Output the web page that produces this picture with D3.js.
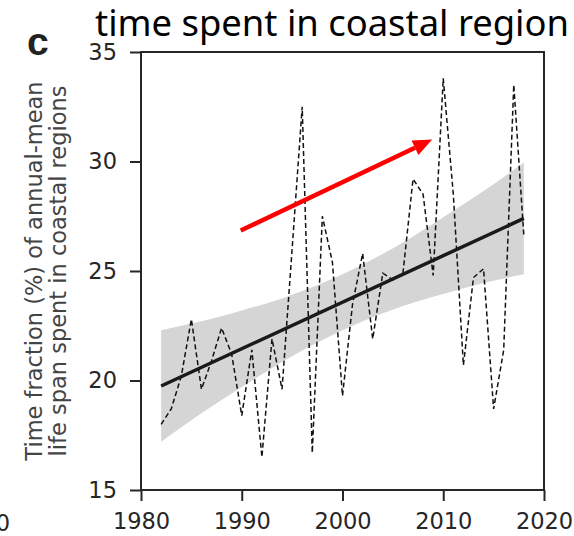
<!DOCTYPE html>
<html>
<head>
<meta charset="utf-8">
<script src="https://cdn.jsdelivr.net/npm/d3@7"></script>
<style>
  body { margin: 0; background: #fff; }
  svg { display: block; }
</style>
</head>
<body>
<svg id="chart" width="574" height="536"></svg>
<script>
// yearly series
const years = [1982, 1983, 1984, 1985, 1986, 1987, 1988, 1989, 1990, 1991,
               1992, 1993, 1994, 1995, 1996, 1997, 1998, 1999, 2000, 2001,
               2002, 2003, 2004, 2005, 2006, 2007, 2008, 2009, 2010, 2011,
               2012, 2013, 2014, 2015, 2016, 2017, 2018];
const fraction = [18.0, 18.7, 20.2, 22.8, 19.6, 20.9, 22.4, 21.2, 18.4, 21.4,
                  16.5, 21.9, 19.6, 26.0, 32.5, 16.7, 27.5, 25.4, 19.3, 23.5,
                  25.8, 21.9, 24.9, 24.6, 24.9, 29.2, 28.5, 24.8, 33.8, 28.5,
                  20.7, 24.7, 25.1, 18.7, 21.4, 33.5, 26.6];

// regression line and its confidence band
const trendYears = [1982, 2018];
const trendValues = [19.75, 27.4];
const bandYears = [1982, 1986, 1990, 1994, 1998, 2002, 2006, 2010, 2014, 2018];
const bandUpper = [22.3, 22.7, 23.2, 23.75, 24.45, 25.3, 26.3, 27.45, 28.65, 29.95];
const bandLower = [17.2, 18.5, 19.7, 20.85, 21.85, 22.7, 23.4, 23.95, 24.45, 24.85];

// red arrow (year, value)
const arrowFrom = [1989.9, 26.85];
const arrowTo = [2008.9, 31.0];

const xTicks = [1980, 1990, 2000, 2010, 2020];
const yTicks = [15, 20, 25, 30, 35];

const svg = d3.select("#chart");
const x = d3.scaleLinear().domain([1980, 2020]).range([141, 544]);
const y = d3.scaleLinear().domain([15, 35]).range([490, 52]);
const ink = "#262626";

// band
const band = d3.area()
  .x((d, i) => x(bandYears[i]))
  .y0((d, i) => y(bandLower[i]))
  .y1(d => y(d))
  .curve(d3.curveMonotoneX);
svg.append("path")
  .attr("d", band(bandUpper))
  .attr("fill", "#d5d5d5");

// dashed series
const line = d3.line()
  .x((d, i) => x(years[i]))
  .y(d => y(d));
svg.append("path")
  .attr("d", line(fraction))
  .attr("fill", "none")
  .attr("stroke", "#111")
  .attr("stroke-width", 1.5)
  .attr("stroke-dasharray", "5,3");

// trend
svg.append("line")
  .attr("x1", x(trendYears[0])).attr("y1", y(trendValues[0]))
  .attr("x2", x(trendYears[1])).attr("y2", y(trendValues[1]))
  .attr("stroke", "#1a1a1a")
  .attr("stroke-width", 3.5);

// arrow
const ax0 = x(arrowFrom[0]), ay0 = y(arrowFrom[1]);
const ax1 = x(arrowTo[0]), ay1 = y(arrowTo[1]);
const ang = Math.atan2(ay1 - ay0, ax1 - ax0);
const headLen = 19, headW = 8;
const bx = ax1 - headLen * Math.cos(ang), by = ay1 - headLen * Math.sin(ang);
svg.append("line")
  .attr("x1", ax0).attr("y1", ay0)
  .attr("x2", bx).attr("y2", by)
  .attr("stroke", "#ff0000")
  .attr("stroke-width", 4.5);
svg.append("path")
  .attr("d", `M${ax1},${ay1}L${bx - headW * Math.sin(ang)},${by + headW * Math.cos(ang)}` +
             `L${bx + headW * Math.sin(ang)},${by - headW * Math.cos(ang)}Z`)
  .attr("fill", "#ff0000");

// axes
const fontAxis = "'DejaVu Sans', sans-serif";
const xAxis = svg.append("g")
  .attr("transform", "translate(0,490)")
  .call(d3.axisBottom(x).tickValues(xTicks).tickFormat(d3.format("d"))
    .tickSizeInner(11).tickSizeOuter(0).tickPadding(12));
const yAxis = svg.append("g")
  .attr("transform", "translate(141,0)")
  .call(d3.axisLeft(y).tickValues(yTicks)
    .tickSizeInner(11).tickSizeOuter(0).tickPadding(13));
for (const g of [xAxis, yAxis]) {
  g.select(".domain").remove();
  g.selectAll(".tick line").attr("stroke", ink).attr("stroke-width", 2);
  g.selectAll(".tick text")
    .attr("fill", ink)
    .style("font-family", fontAxis)
    .style("font-size", "22.5px");
}

// frame
svg.append("rect")
  .attr("x", 141).attr("y", 52)
  .attr("width", 403).attr("height", 438)
  .attr("fill", "none")
  .attr("stroke", ink)
  .attr("stroke-width", 2);

// neighbour panel fragment
svg.append("text")
  .attr("x", 10).attr("y", 531)
  .attr("text-anchor", "end")
  .attr("fill", ink)
  .style("font-family", fontAxis)
  .style("font-size", "22.5px")
  .text("2020");

// y label
const ylab = svg.append("text")
  .attr("transform", "rotate(-90)")
  .attr("text-anchor", "middle")
  .attr("fill", "#444")
  .style("font-family", fontAxis)
  .style("font-size", "22.5px");
ylab.append("tspan").attr("x", -271).attr("y", 42).text("Time fraction (%) of annual-mean");
ylab.append("tspan").attr("x", -271).attr("y", 66).text("life span spent in coastal regions");

// panel letter
svg.append("text")
  .attr("x", 27).attr("y", 55)
  .attr("fill", "#222")
  .style("font-family", "'Liberation Sans', Arial, sans-serif")
  .style("font-weight", "bold")
  .style("font-size", "39px")
  .text("c");

// title
const title = svg.append("text")
  .attr("x", 95).attr("y", 36)
  .attr("fill", "#000")
  .style("font-family", "'Noto Sans', 'Open Sans', sans-serif")
  .style("font-size", "30px")
  .text("time spent in coastal region");
const tw = title.node().getComputedTextLength();
title.style("font-size", (30 * 474 / tw).toFixed(2) + "px");
</script>
</body>
</html>
